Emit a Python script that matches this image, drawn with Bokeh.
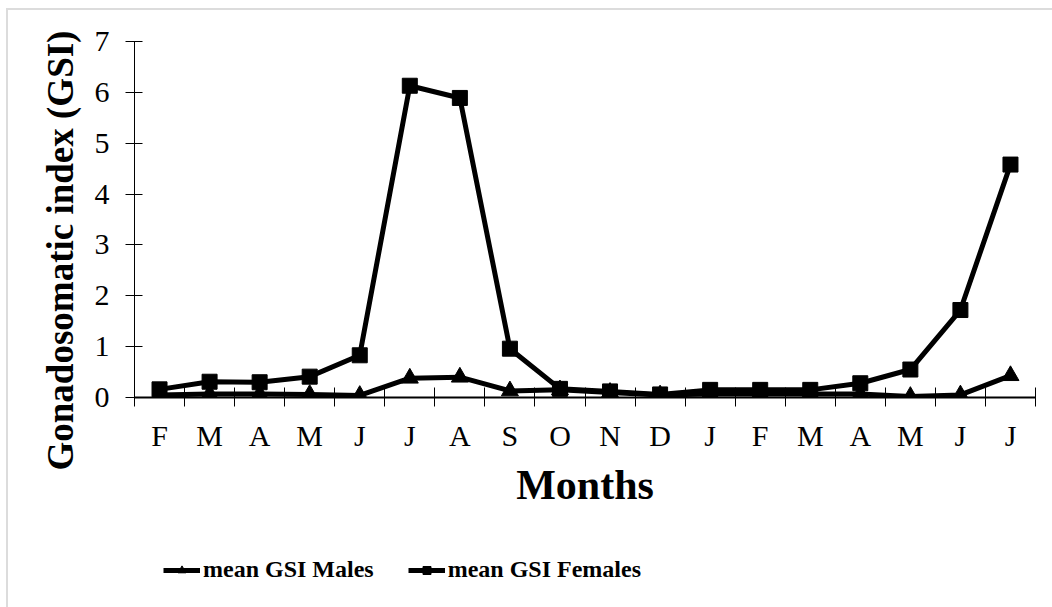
from bokeh.plotting import figure
from bokeh.layouts import column
from bokeh.models import FixedTicker, Legend, LegendItem, Range1d, CustomJSTickFormatter, Title
from bokeh.embed import file_html
from bokeh.resources import INLINE

months = ["F", "M", "A", "M", "J", "J", "A", "S", "O", "N", "D", "J", "F", "M", "A", "M", "J", "J"]
females = [0.16, 0.31, 0.30, 0.41, 0.83, 6.13, 5.89, 0.96, 0.17, 0.12, 0.06, 0.15, 0.15, 0.15, 0.28, 0.55, 1.72, 4.58]
males = [0.05, 0.07, 0.07, 0.06, 0.04, 0.38, 0.40, 0.13, 0.15, 0.10, 0.05, 0.07, 0.07, 0.07, 0.07, 0.02, 0.05, 0.43]
y_ticks = [0, 1, 2, 3, 4, 5, 6, 7]
series_names = ["mean GSI Males", "mean GSI Females"]

n = len(months)
xs = [i + 0.5 for i in range(n)]
FONT = "Liberation Serif"

p = figure(width=1044, height=520, output_backend="svg", toolbar_location=None,
           x_range=Range1d(0, n), y_range=Range1d(y_ticks[0], y_ticks[-1]),
           min_border_left=126, min_border_right=17, min_border_top=31, min_border_bottom=133)
p.outline_line_color = None
p.xgrid.visible = False
p.ygrid.visible = False

fl = p.line(xs, females, line_color="black", line_width=5)
fs = p.scatter(xs, females, marker="square", size=15, fill_color="black", line_color="black")
ml = p.line(xs, males, line_color="black", line_width=5)
ms = p.scatter(xs, males, marker="triangle", size=17, fill_color="black", line_color="black")

# y axis
ya = p.yaxis[0]
ya.ticker = FixedTicker(ticks=y_ticks)
ya.axis_line_color = "black"
ya.axis_line_width = 1
ya.major_tick_in = 8
ya.major_tick_out = 9
ya.minor_tick_line_color = None
ya.major_label_text_font = FONT
ya.major_label_text_font_size = "30px"
ya.major_label_text_color = "black"
ya.major_label_standoff = 16

ytitle = Title(text="Gonadosomatic index (GSI)", align="left", offset=-73,
               text_font=FONT, text_font_style="bold", text_font_size="37px",
               text_color="black", standoff=21)
p.add_layout(ytitle, "left")

# x axis
xa = p.xaxis[0]
xa.ticker = FixedTicker(ticks=xs, minor_ticks=list(range(n + 1)))
xa.formatter = CustomJSTickFormatter(args=dict(labels=months), code="return labels[Math.floor(tick)];")
xa.axis_line_color = "black"
xa.axis_line_width = 2
xa.major_tick_in = 0
xa.major_tick_out = 0
xa.minor_tick_in = 10
xa.minor_tick_out = 9
xa.minor_tick_line_color = "black"
xa.minor_tick_line_width = 1
xa.major_label_text_font = FONT
xa.major_label_text_font_size = "30px"
xa.major_label_text_color = "black"
xa.major_label_standoff = 12
xa.axis_label = "Months"
xa.axis_label_text_font = FONT
xa.axis_label_text_font_style = "bold"
xa.axis_label_text_font_size = "42px"
xa.axis_label_text_color = "black"
xa.axis_label_standoff = 7

# legend strip (its copies of the series sit outside its visible y range)
lg = figure(width=1044, height=77, output_backend="svg", toolbar_location=None,
            x_range=Range1d(0, n), y_range=Range1d(100, 101),
            x_axis_location=None, y_axis_location=None,
            min_border_left=0, min_border_right=0, min_border_top=0, min_border_bottom=0)
lg.outline_line_color = None
lg.xgrid.visible = False
lg.ygrid.visible = False
lml = lg.line(xs, males, line_color="black", line_width=5)
lms = lg.scatter(xs, males, marker="triangle", size=17, fill_color="black", line_color="black")
lfl = lg.line(xs, females, line_color="black", line_width=5)
lfs = lg.scatter(xs, females, marker="square", size=15, fill_color="black", line_color="black")

legend = Legend(items=[LegendItem(label=series_names[0], renderers=[lml, lms]),
                       LegendItem(label=series_names[1], renderers=[lfl, lfs])],
                location=(29, 24), orientation="horizontal",
                label_text_font=FONT, label_text_font_style="bold", label_text_font_size="24px",
                label_text_color="black",
                glyph_width=37, glyph_height=20, label_standoff=3, spacing=34,
                padding=0, margin=0, border_line_alpha=0, background_fill_alpha=0)
lg.add_layout(legend)

layout = column(p, lg, spacing=0)
layout.styles = {"margin-left": "6px", "margin-top": "8px",
                 "border-left": "2px solid #dcdcdc", "border-top": "2px solid #dcdcdc"}

open("out.html", "w").write(file_html(layout, INLINE))
